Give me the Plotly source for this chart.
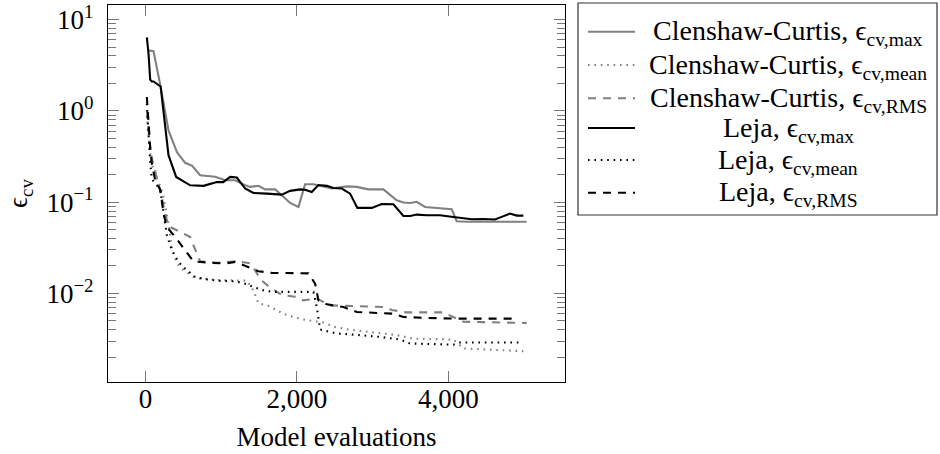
import plotly.graph_objects as go

# ---------------- data ----------------
cc_max_x = [32, 106, 194, 304, 418, 524, 616, 722, 920, 1052, 1184, 1316, 1382, 1492, 1580, 1712, 1800, 1910,
            2020, 2108, 2218, 2329, 2460, 2659, 2790, 2944, 3142, 3318, 3406, 3494, 3582, 3692, 3802, 3934,
            4044, 4110, 4242, 5034]
cc_max_y = [4.6, 4.5, 1.95, 0.61, 0.35, 0.27, 0.25, 0.197, 0.19, 0.174, 0.174, 0.153, 0.147, 0.151, 0.138,
            0.138, 0.119, 0.098, 0.0886, 0.157, 0.157, 0.149, 0.141, 0.149, 0.147, 0.138, 0.138, 0.105, 0.099,
            0.098, 0.101, 0.0886, 0.087, 0.086, 0.0836, 0.0618, 0.061, 0.061]

cc_mean_x = [18, 40, 62, 84, 128, 194, 238, 304, 348, 414, 502, 634, 722, 964, 1184, 1338, 1426, 1492, 1624,
             1822, 1954, 2130, 2350, 2504, 2702, 3098, 3318, 3538, 4066, 4198, 4990]
cc_mean_y = [0.9, 0.5, 0.35, 0.26, 0.2, 0.15, 0.114, 0.0583, 0.0323, 0.0213, 0.018, 0.0152, 0.0146, 0.014,
             0.014, 0.0138, 0.0108, 0.0078, 0.0073, 0.006, 0.0055, 0.0051, 0.0048, 0.0043, 0.004, 0.00364,
             0.0035, 0.0032, 0.00313, 0.0025, 0.00233]

cc_rms_x = [18, 40, 62, 84, 128, 194, 260, 304, 414, 590, 678, 722, 942, 1206, 1382, 1448, 1514, 1624, 1800,
            1976, 2086, 2262, 2438, 2790, 2966, 3164, 3252, 3450, 3934, 4066, 4198, 5034]
cc_rms_y = [1.0, 0.6, 0.4, 0.3, 0.22, 0.135, 0.0755, 0.0545, 0.0492, 0.0416, 0.0274, 0.0225, 0.0217, 0.0225,
            0.0214, 0.018, 0.0143, 0.012, 0.0096, 0.0092, 0.0084, 0.0088, 0.0074, 0.0072, 0.0071, 0.0071,
            0.0066, 0.0062, 0.0062, 0.0055, 0.0049, 0.00475]

leja_max_x = [18, 40, 62, 84, 106, 200, 304, 405, 590, 766, 942, 1026, 1118, 1206, 1316, 1426, 1602, 1800,
              1910, 2042, 2108, 2196, 2284, 2395, 2482, 2592, 2702, 2798, 2988, 3120, 3274, 3406, 3494, 3582,
              3714, 3890, 4066, 4308, 4462, 4616, 4704, 4814, 4902, 4990]
leja_max_y = [6.4, 4.25, 2.2, 2.1, 2.1, 1.85, 0.327, 0.189, 0.153, 0.151, 0.166, 0.166, 0.189, 0.186, 0.141,
              0.126, 0.124, 0.121, 0.133, 0.138, 0.137, 0.129, 0.154, 0.151, 0.143, 0.141, 0.124, 0.0865,
              0.0865, 0.0955, 0.095, 0.0706, 0.0706, 0.0731, 0.072, 0.072, 0.0689, 0.065, 0.0654, 0.0645,
              0.069, 0.075, 0.0713, 0.0713]

leja_mean_x = [18, 40, 62, 84, 128, 194, 282, 348, 436, 524, 656, 788, 1008, 1184, 1316, 1448, 1580, 1712,
               2218, 2262, 2306, 2526, 2702, 3098, 3362, 3494, 4066, 4154, 4946]
leja_mean_y = [1.2, 0.5, 0.27, 0.18, 0.16, 0.14, 0.0435, 0.0297, 0.0221, 0.0187, 0.0152, 0.0143, 0.0137,
               0.0136, 0.0128, 0.0116, 0.0107, 0.0104, 0.0104, 0.0071, 0.00403, 0.00364, 0.00357, 0.00334,
               0.00313, 0.00283, 0.00275, 0.0029, 0.0029]

leja_rms_x = [18, 40, 62, 84, 128, 194, 238, 282, 392, 524, 634, 876, 1052, 1184, 1316, 1492, 1668, 1932,
              2152, 2240, 2284, 2395, 2614, 2790, 3054, 3274, 3406, 3670, 4110, 4902]
leja_rms_y = [1.42, 0.667, 0.40, 0.265, 0.174, 0.137, 0.0755, 0.0535, 0.0416, 0.0297, 0.0225, 0.0216, 0.0213,
              0.0222, 0.020, 0.0175, 0.0168, 0.0168, 0.0166, 0.0128, 0.0084, 0.0076, 0.0071, 0.00627, 0.0061,
              0.006, 0.00553, 0.0054, 0.0053, 0.0053]

series_labels = [
    "Clenshaw-Curtis, ϵ<sub>cv,max</sub>",
    "Clenshaw-Curtis, ϵ<sub>cv,mean</sub>",
    "Clenshaw-Curtis, ϵ<sub>cv,RMS</sub>",
    "Leja, ϵ<sub>cv,max</sub>",
    "Leja, ϵ<sub>cv,mean</sub>",
    "Leja, ϵ<sub>cv,RMS</sub>",
]

x_tick_vals = [0, 2000, 4000]
x_tick_text = ["0", "2,000", "4,000"]
y_tick_vals = [0.01, 0.1, 1, 10]
y_tick_text = ["10<sup>−2</sup>", "10<sup>−1</sup>", "10<sup>0</sup>", "10<sup>1</sup>"]

# ---------------- styling ----------------
FONT = "Liberation Serif, Times New Roman, serif"
FS = 27
FS_LEG = 28
GRAY = "#808080"
BLACK = "#000000"
DOT = "1.6px,4.8px"
DASH = "8px,7px"

W, H = 940, 454
L, R, T, B = 108, 565, 5, 382

styles = [
    (GRAY, "solid"), (GRAY, DOT), (GRAY, DASH),
    (BLACK, "solid"), (BLACK, DOT), (BLACK, DASH),
]
data = [
    (cc_max_x, cc_max_y), (cc_mean_x, cc_mean_y), (cc_rms_x, cc_rms_y),
    (leja_max_x, leja_max_y), (leja_mean_x, leja_mean_y), (leja_rms_x, leja_rms_y),
]

fig = go.Figure()
for (xs, ys), (col, dash), lab in zip(data, styles, series_labels):
    fig.add_trace(go.Scatter(x=xs, y=ys, mode="lines", name=lab, showlegend=False,
                             line=dict(color=col, width=2.1, dash=dash)))

def px2paper(px, py):
    return (px - L) / (R - L), (B - py) / (B - T)

# manual legend (centered text like pgfplots)
shapes = []
annotations = []
bx0, by0 = px2paper(578, 3)
bx1, by1 = px2paper(937, 215)
shapes.append(dict(type="rect", xref="paper", yref="paper", x0=bx0, x1=bx1, y0=by1, y1=by0,
                   line=dict(color="#333", width=1.2), fillcolor="white", layer="above"))
row_y = [31.7, 65, 98.3, 128, 160, 192.7]
for ry, (col, dash), lab in zip(row_y, styles, series_labels):
    x0, y0 = px2paper(588, ry)
    x1, _ = px2paper(635, ry)
    shapes.append(dict(type="line", xref="paper", yref="paper", x0=x0, x1=x1, y0=y0, y1=y0,
                       line=dict(color=col, width=2.1, dash=dash), layer="above"))
    tx, ty = px2paper(788, ry + 1)
    annotations.append(dict(xref="paper", yref="paper", x=tx, y=ty, text=lab, showarrow=False,
                            xanchor="center", yanchor="middle",
                            font=dict(family=FONT, size=FS_LEG, color="black")))

minor_vals = [m * 10.0 ** e for e in range(-3, 2) for m in range(2, 10)]

fig.update_layout(
    width=W, height=H,
    margin=dict(l=L, r=W - R, t=T, b=H - B, pad=0),
    paper_bgcolor="white", plot_bgcolor="white",
    font=dict(family=FONT, size=FS, color="black"),
    shapes=shapes, annotations=annotations,
    xaxis=dict(range=[-495, 5540], showgrid=False, zeroline=False, automargin=False,
               showline=True, linecolor="black", linewidth=1.2, mirror="allticks",
               ticks="inside", ticklen=11, tickwidth=1, tickcolor="#777",
               tickvals=x_tick_vals, ticktext=x_tick_text, ticklabelstandoff=-8,
               tickfont=dict(family=FONT, size=FS),
               title=dict(text="Model evaluations", standoff=14,
                          font=dict(family=FONT, size=FS))),
    yaxis=dict(type="log", range=[-2.97, 1.16], showgrid=False, zeroline=False, automargin=False,
               showline=True, linecolor="black", linewidth=1.2, mirror="allticks",
               ticks="inside", ticklen=11, tickwidth=1, tickcolor="#777",
               tickvals=y_tick_vals, ticktext=y_tick_text, ticklabelstandoff=8,
               tickfont=dict(family=FONT, size=FS),
               minor=dict(tickvals=minor_vals, ticks="inside", ticklen=7.5, tickwidth=1,
                          tickcolor="#777", showgrid=False),
               title=dict(text="ϵ<sub>cv</sub>", standoff=10,
                          font=dict(family=FONT, size=FS))),
)

fig.write_html(
    "out.html",
    config={"displayModeBar": False},
    post_script="document.body.style.margin='0';document.body.style.padding='0';"
                "document.body.style.overflow='hidden';",
)
